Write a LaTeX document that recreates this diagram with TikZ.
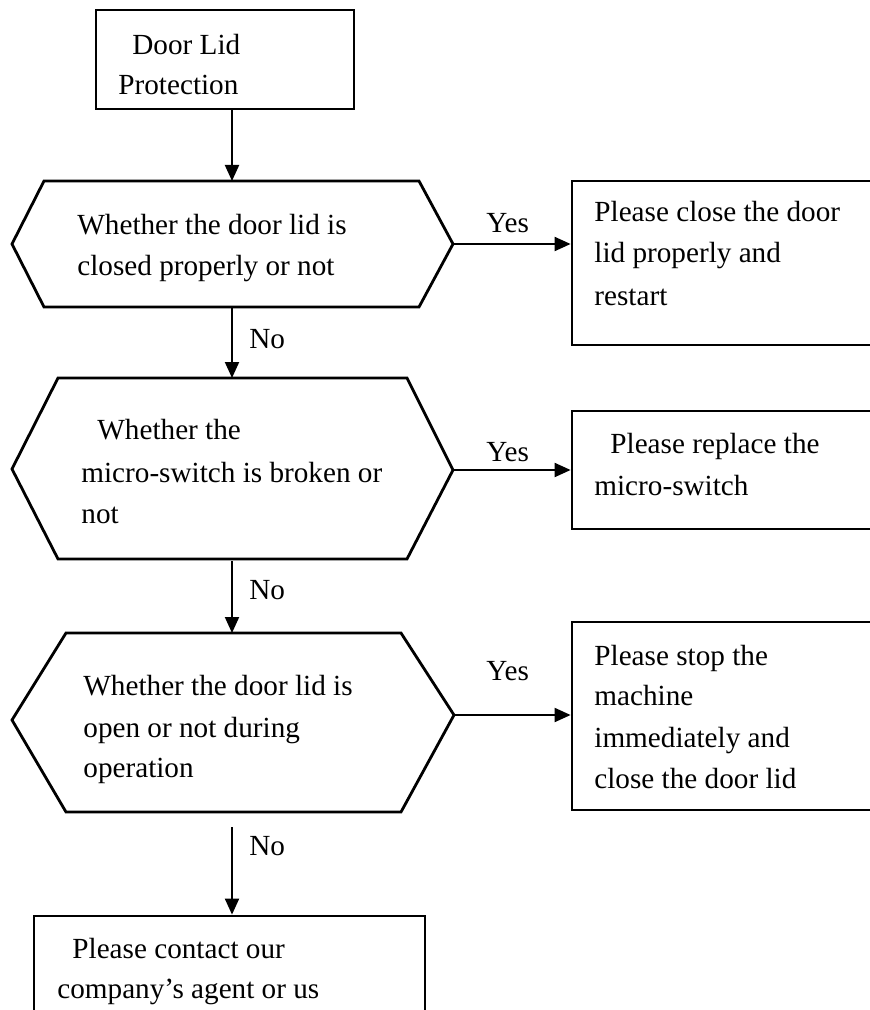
\documentclass[tikz,border=0pt]{standalone}
\usepackage{fontspec}
\setmainfont{Liberation Serif}
\usetikzlibrary{arrows.meta}
\begin{document}
\begin{tikzpicture}[x=0.5pt,y=-0.5pt,
  outline/.style={draw,line width=1.4pt},
  boxst/.style={outline,rectangle,inner sep=0pt},
  arr/.style={line width=1pt,-{Triangle[length=8pt,width=7pt]}},
  txt/.style={anchor=base west,inner sep=0pt,font=\fontsize{14.6pt}{20pt}\selectfont},
  ]
\useasboundingbox (0,0) rectangle (870,1010);
\clip (0,0) rectangle (870,1010);

% boxes
\node[boxst,minimum width=129pt,minimum height=49.5pt] (start) at (225,59.5) {};
\node[boxst,minimum width=164pt,minimum height=82pt] (r1) at (736,263) {};
\node[boxst,minimum width=164pt,minimum height=59pt] (r2) at (736,470) {};
\node[boxst,minimum width=164pt,minimum height=94pt] (r3) at (736,716) {};
\node[boxst,minimum width=195.5pt,minimum height=62pt] (bot) at (229.5,978) {};

% hexagons
\coordinate (h1l) at (12,244);  \coordinate (h1r) at (453,244);
\coordinate (h1t) at (232,181); \coordinate (h1b) at (232,307);
\draw[outline,line join=miter] (h1l) -- (44,181) -- (419,181) -- (h1r) -- (419,307) -- (44,307) -- cycle;

\coordinate (h2l) at (12,469);  \coordinate (h2r) at (453,470);
\coordinate (h2t) at (232,378); \coordinate (h2b) at (232,561);
\draw[outline,line join=miter] (h2l) -- (58,378) -- (407,378) -- (h2r) -- (407,559) -- (58,559) -- cycle;

\coordinate (h3l) at (12,720);  \coordinate (h3r) at (454,715);
\coordinate (h3t) at (232,633); \coordinate (n3s) at (232,827);
\draw[outline,line join=miter] (h3l) -- (66,633) -- (401,633) -- (h3r) -- (401,812) -- (66,812) -- cycle;

% connectors
\draw[arr] (start.south -| h1t) -- (h1t);
\draw[arr] (h1r) -- (h1r -| r1.west);
\draw[arr] (h1b) -- (h2t);
\draw[arr] (h2r) -- (h2r -| r2.west);
\draw[arr] (h2b) -- (h3t);
\draw[arr] (h3r) -- (h3r -| r3.west);
\draw[arr] (n3s) -- (n3s |- bot.north);

% texts
\node[txt] (s1) at (132,55) {Door Lid};
\node[txt] (s2) at (118,95) {Protection};

\node[txt] (a1) at (77,235) {Whether the door lid is};
\node[txt] (a2) at (77,276) {closed properly or not};

\node[txt] (b1) at (594,222) {Please close the door};
\node[txt] (b2) at (594,263) {lid properly and};
\node[txt] (b3) at (594,306) {restart};

\node[txt] (y1) at (486,233) {Yes};
\node[txt] (no1) at (249,348) {No};

\node[txt] (c1) at (97,439) {Whether the};
\node[txt] (c2) at (81,482) {micro-switch is broken or};
\node[txt] (c3) at (81,523) {not};

\node[txt] (d1) at (610,453) {Please replace the};
\node[txt] (d2) at (594,495) {micro-switch};

\node[txt] (y2) at (486,461) {Yes};
\node[txt] (no2) at (249,599) {No};

\node[txt] (e1) at (83,695) {Whether the door lid is};
\node[txt] (e2) at (83,737) {open or not during};
\node[txt] (e3) at (83,777) {operation};

\node[txt] (f1) at (594,665) {Please stop the};
\node[txt] (f2) at (594,705) {machine};
\node[txt] (f3) at (594,747) {immediately and};
\node[txt] (f4) at (594,788) {close the door lid};

\node[txt] (y3) at (486,680) {Yes};
\node[txt] (no3) at (249,855) {No};

\node[txt] (g1) at (72,958) {Please contact our};
\node[txt] (g2) at (57,998) {company’s agent or us};
\end{tikzpicture}
\end{document}
